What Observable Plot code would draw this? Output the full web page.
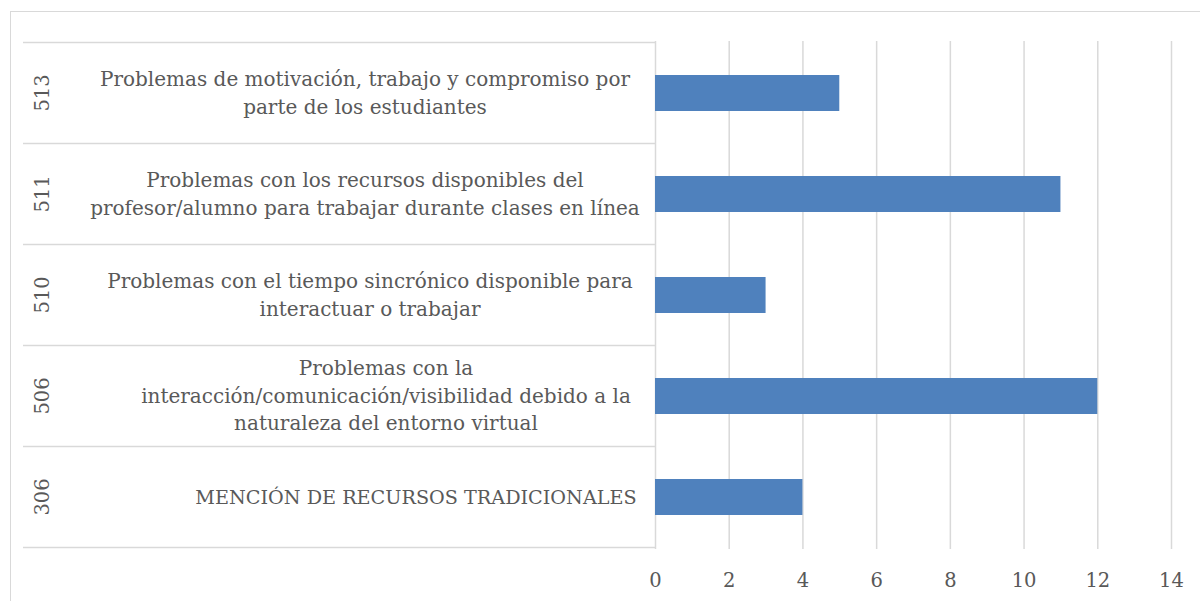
<!DOCTYPE html>
<html><head><meta charset="utf-8">
<script src="https://cdn.jsdelivr.net/npm/d3@7"></script>
<script src="https://cdn.jsdelivr.net/npm/@observablehq/plot@0.6"></script>
<style>
body{margin:0;background:#fff;overflow:hidden}
#wrap{position:relative;width:1200px;height:601px;overflow:hidden}
#border{position:absolute;left:10px;top:11px;width:1300px;height:700px;border:1.5px solid #d9d9d9;box-sizing:border-box}
#chart{position:absolute;left:0;top:0}
</style></head><body>
<div id="wrap"><div id="border"></div><div id="chart"></div></div>
<script>
// ---- data ----
const codes = ["513", "511", "510", "506", "306"];
const labels = [
  "Problemas de motivación, trabajo y compromiso por\nparte de los estudiantes",
  "Problemas con los recursos disponibles del\nprofesor/alumno para trabajar durante clases en línea",
  "Problemas con el tiempo sincrónico disponible para\ninteractuar o trabajar",
  "Problemas con la\ninteracción/comunicación/visibilidad debido a la\nnaturaleza del entorno virtual",
  "MENCIÓN DE RECURSOS TRADICIONALES"
];
const values = [5, 11, 3, 12, 4];
const xTicks = [0, 2, 4, 6, 8, 10, 12, 14];

// ---- layout ----
const labelCenterX = [365, 365, 370, 386, 416];
const labelFontSize = [20, 20, 20, 20, 19.2];
const paddingInner = 0.645;
const textColor = "#595959";
const gridColor = "#d9d9d9";
const font = "DejaVu Serif";

const data = codes.map((c, i) => ({code: c, label: labels[i], value: values[i]}));

function categoryArea(index, scales, vals, dims) {
  const y = scales.y;
  const step = y(codes[1]) - y(codes[0]);
  const bw = step * (1 - paddingInner);
  const g = d3.create("svg:g");
  const xL = 23, xR = dims.marginLeft;
  const bounds = codes.map(c => y(c) - step * paddingInner / 2);
  bounds.push(bounds[bounds.length - 1] + step);
  for (const b of bounds) {
    g.append("line").attr("x1", xL).attr("x2", xR).attr("y1", b).attr("y2", b)
      .attr("stroke", gridColor).attr("stroke-width", 1.5);
  }
  codes.forEach((c, i) => {
    const cy = y(c) + bw / 2;
    g.append("text")
      .attr("transform", `translate(42,${cy}) rotate(-90)`)
      .attr("text-anchor", "middle").attr("dy", "0.35em")
      .attr("fill", textColor).attr("font-size", 19.5).attr("font-family", font)
      .text(c);
    const lines = labels[i].split("\n");
    const lh = 27.5;
    const t = g.append("text").attr("text-anchor", "middle")
      .attr("fill", textColor).attr("font-size", labelFontSize[i]).attr("font-family", font);
    lines.forEach((ln, k) => {
      t.append("tspan").attr("x", labelCenterX[i])
        .attr("y", cy + (k - (lines.length - 1) / 2) * lh)
        .attr("dy", "0.35em").text(ln);
    });
  });
  return g.node();
}

const chart = Plot.plot({
  width: 1200,
  height: 601,
  marginLeft: 655,
  marginRight: 29,
  marginTop: 41,
  marginBottom: 52,
  style: {fontFamily: font, fontSize: "19.5px", color: textColor, background: "transparent"},
  x: {domain: [0, 14]},
  y: {domain: codes, paddingInner: paddingInner, paddingOuter: paddingInner / 2, axis: null},
  marks: [
    Plot.gridX(xTicks, {stroke: gridColor, strokeOpacity: 1, strokeWidth: 1.5}),
    Plot.barX(data, {x: "value", y: "code", fill: "#4F81BD"}),
    Plot.axisX({ticks: xTicks, tickSize: 0, tickPadding: 24, fontSize: 19.5, label: null, fill: textColor}),
    categoryArea
  ]
});
document.getElementById("chart").appendChild(chart);
</script>
</body></html>
